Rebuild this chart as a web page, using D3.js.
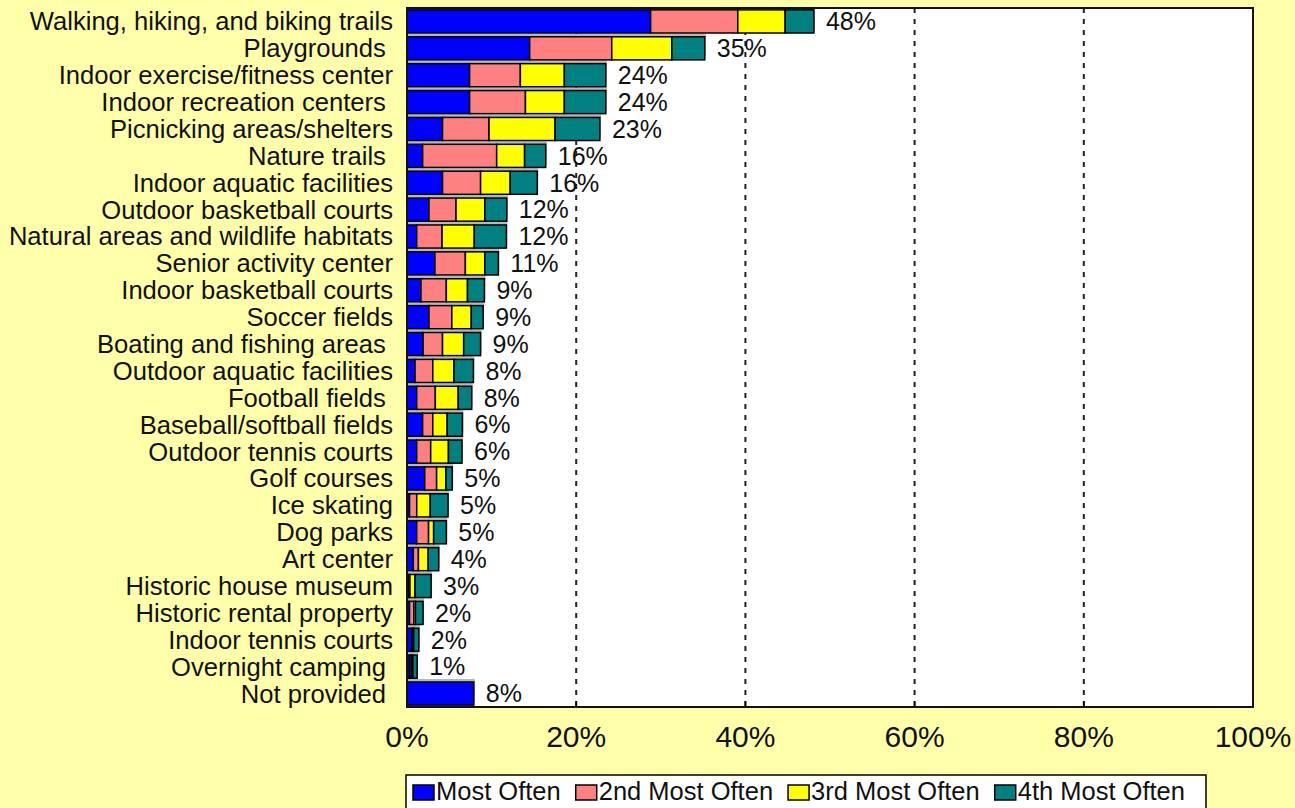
<!DOCTYPE html>
<html>
<head>
<meta charset="utf-8">
<script src="https://cdn.jsdelivr.net/npm/d3@7"></script>
<style>
  html, body { margin: 0; padding: 0; background: #FFFFAA; }
  svg { display: block; }
  text { font-family: "Liberation Sans", Arial, sans-serif; fill: #111; white-space: pre; }
</style>
</head>
<body>
<svg id="chart" width="1295" height="808"></svg>
<script>
const categories = [
  "Walking, hiking, and biking trails",
  "Playgrounds ",
  "Indoor exercise/fitness center",
  "Indoor recreation centers ",
  "Picnicking areas/shelters",
  "Nature trails ",
  "Indoor aquatic facilities",
  "Outdoor basketball courts",
  "Natural areas and wildlife habitats",
  "Senior activity center",
  "Indoor basketball courts",
  "Soccer fields",
  "Boating and fishing areas ",
  "Outdoor aquatic facilities",
  "Football fields ",
  "Baseball/softball fields",
  "Outdoor tennis courts",
  "Golf courses",
  "Ice skating",
  "Dog parks",
  "Art center",
  "Historic house museum",
  "Historic rental property",
  "Indoor tennis courts",
  "Overnight camping ",
  "Not provided "
];
const seriesNames = ["Most Often", "2nd Most Often", "3rd Most Often", "4th Most Often"];
const mostOften   = [28.8, 14.5, 7.4, 7.4, 4.2, 1.85, 4.2, 2.6, 1.15, 3.3, 1.65, 2.6, 1.9, 0.95, 1.15, 1.85, 1.15, 2.1, 0.3, 1.15, 0.75, 0.15, 0.3, 0.6, 0.3, 7.9];
const second      = [10.3, 9.7, 6.0, 6.6, 5.5, 8.75, 4.5, 3.2, 3.0, 3.6, 3.0, 2.7, 2.3, 2.1, 2.2, 1.2, 1.65, 1.4, 0.85, 1.4, 0.6, 0.2, 0.5, 0.1, 0.2, 0];
const third       = [5.6, 7.1, 5.2, 4.6, 7.8, 3.3, 3.5, 3.4, 3.8, 2.3, 2.5, 2.3, 2.5, 2.5, 2.7, 1.7, 2.1, 1.1, 1.6, 0.6, 1.15, 0.6, 0.2, 0.1, 0.2, 0];
const fourth      = [3.4, 3.9, 4.9, 4.9, 5.3, 2.5, 3.2, 2.6, 3.8, 1.6, 2.0, 1.4, 2.0, 2.3, 1.6, 1.8, 1.6, 0.75, 2.1, 1.5, 1.25, 1.9, 0.9, 0.6, 0.5, 0];
const totalLabels = ["48%", "35%", "24%", "24%", "23%", "16%", "16%", "12%", "12%", "11%", "9%", "9%", "9%", "8%", "8%", "6%", "6%", "5%", "5%", "5%", "4%", "3%", "2%", "2%", "1%", "8%"];
const xTicks = [0, 20, 40, 60, 80, 100];
const colors = ["#0000FF", "#FF8080", "#FFFF00", "#008080"];

const svg = d3.select("#chart");
const W = 1295, H = 808;
svg.append("rect").attr("width", W).attr("height", H).attr("fill", "#FFFFAA");

const plot = {left: 407, right: 1253, top: 8, bottom: 707};
const x = d3.scaleLinear().domain([0, 100]).range([plot.left, plot.right]);
const y = d3.scaleBand().domain(categories).range([plot.top, plot.bottom]).paddingInner(0.14).paddingOuter(0.07);

// plot area
svg.append("rect").attr("x", plot.left).attr("y", plot.top)
  .attr("width", plot.right - plot.left).attr("height", plot.bottom - plot.top)
  .attr("fill", "#fff");

// gridlines
svg.append("g").selectAll("line").data(xTicks.filter(t => t > 0 && t < 100)).join("line")
  .attr("x1", d => x(d)).attr("x2", d => x(d))
  .attr("y1", plot.top).attr("y2", plot.bottom)
  .attr("stroke", "#222").attr("stroke-width", 2).attr("stroke-dasharray", "5,6");

// stacked data
const rows = categories.map((c, i) => ({cat: c, vals: [mostOften[i], second[i], third[i], fourth[i]], label: totalLabels[i]}));
const stack = d3.stack().keys([0, 1, 2, 3]).value((d, k) => d.vals[k]);
const stacked = stack(rows);

// shadow strips
svg.append("g").selectAll("rect").data(rows).join("rect")
  .attr("x", x(0))
  .attr("y", d => y(d.cat) - 3)
  .attr("width", d => x(d3.sum(d.vals)) - x(0) + 1)
  .attr("height", y.bandwidth())
  .attr("fill", "#b8b8b8");

const g = svg.append("g");
stacked.forEach((layer, k) => {
  g.append("g").selectAll("rect").data(layer.filter(d => d[1] - d[0] > 0)).join("rect")
    .attr("x", d => x(d[0]))
    .attr("y", d => y(d.data.cat))
    .attr("width", d => x(d[1]) - x(d[0]))
    .attr("height", y.bandwidth())
    .attr("fill", colors[k])
    .attr("stroke", "#000").attr("stroke-width", 1.5);
});

// value labels
svg.append("g").selectAll("text").data(rows).join("text")
  .attr("x", d => x(d3.sum(d.vals)) + 12)
  .attr("y", d => y(d.cat) + y.bandwidth() / 2)
  .attr("dy", "0.35em")
  .attr("font-size", 25)
  .text(d => d.label);

// category labels
svg.append("g").selectAll("text").data(categories).join("text")
  .attr("x", 393)
  .attr("y", d => y(d) + y.bandwidth() / 2)
  .attr("dy", "0.35em")
  .attr("text-anchor", "end")
  .attr("font-size", 25.6)
  .text(d => d);

// bottom ticks
svg.append("g").selectAll("line").data(xTicks.filter(t => t > 0 && t < 100)).join("line")
  .attr("x1", d => x(d)).attr("x2", d => x(d))
  .attr("y1", plot.bottom).attr("y2", plot.bottom - 6)
  .attr("stroke", "#000").attr("stroke-width", 1.5);

// plot border
svg.append("rect").attr("x", plot.left).attr("y", plot.top)
  .attr("width", plot.right - plot.left).attr("height", plot.bottom - plot.top)
  .attr("fill", "none").attr("stroke", "#111").attr("stroke-width", 2);

// x axis labels
svg.append("g").selectAll("text").data(xTicks).join("text")
  .attr("x", d => x(d))
  .attr("y", 747)
  .attr("text-anchor", "middle")
  .attr("font-size", 30)
  .text(d => d + "%");

// legend
const lg = svg.append("g");
lg.append("rect").attr("x", 406).attr("y", 775).attr("width", 800).attr("height", 45)
  .attr("fill", "#fff").attr("stroke", "#000").attr("stroke-width", 1.5);
let lx = 413;
seriesNames.forEach((name, k) => {
  lg.append("rect").attr("x", lx).attr("y", 785).attr("width", 21).attr("height", 15)
    .attr("fill", colors[k]).attr("stroke", "#000").attr("stroke-width", 1.5);
  const t = lg.append("text").attr("x", lx + 23).attr("y", 800).attr("font-size", 25.5).text(name);
  lx = lx + 23 + t.node().getComputedTextLength() + 15;
});
</script>
</body>
</html>
